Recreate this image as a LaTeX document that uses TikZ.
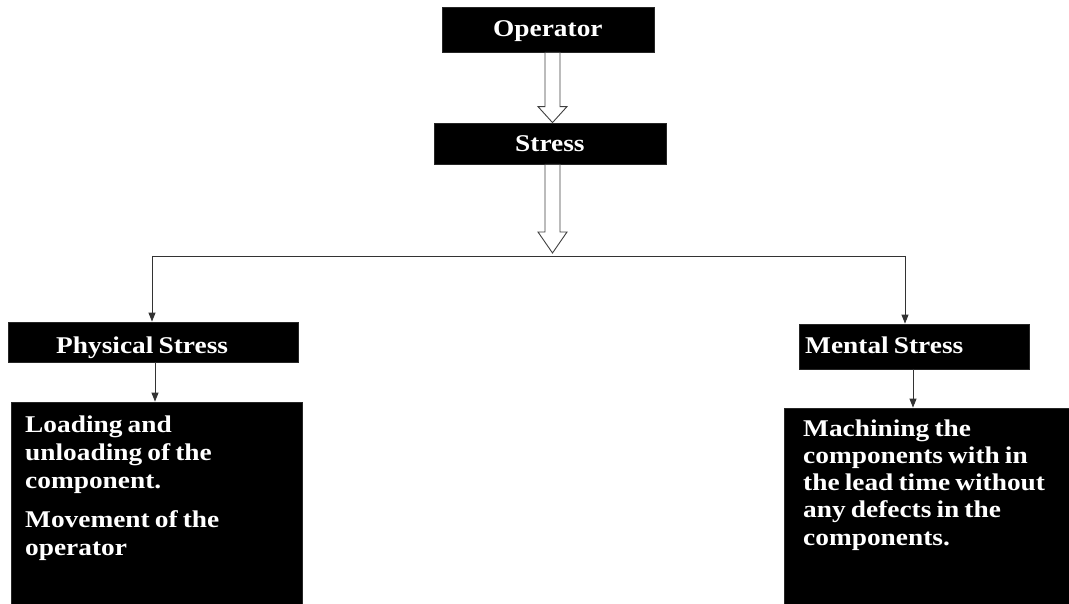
\documentclass[tikz,border=0pt]{standalone}
\usepackage{fontspec}
\usetikzlibrary{arrows.meta,calc}
\newfontfamily\boxfont{Liberation Serif}[FakeStretch=1.14,WordSpace=0.75]
\begin{document}
\begin{tikzpicture}[x=1pt,y=-1pt,
  blackbox/.style={draw=black!85,fill=black,line width=0.8pt,inner sep=0pt},
  boxtext/.style={text=white,anchor=base west,inner sep=0pt,font=\boxfont\bfseries\fontsize{24}{28}\selectfont},
  link/.style={draw=black!80,line width=0.9pt},
  tip/.style={-{Triangle[width=7pt,length=9pt]}},
  hollow/.style={draw=black!75,fill=white,line width=0.9pt,line join=miter}]
\useasboundingbox (0,0) rectangle (1069,604);
\begin{scope}
\clip (0,0) rectangle (1069,604);
% boxes
\node[blackbox,minimum width=212pt,minimum height=45pt] (op) at (548,29.5) {};
\node[blackbox,minimum width=232pt,minimum height=41pt] (st) at (550,143.5) {};
\node[blackbox,minimum width=290pt,minimum height=40pt] (ps) at (153,342) {};
\node[blackbox,minimum width=291pt,minimum height=212pt] (pb) at (156.5,508) {};
\node[blackbox,minimum width=230pt,minimum height=45pt] (ms) at (914,346.5) {};
\node[blackbox,minimum width=291pt,minimum height=206pt] (mb) at (929.5,511) {};
\end{scope}
% labels
\node[boxtext] (opt) at (493,37) {Operator};
\node[boxtext] (stt) at (515,152) {Stress};
\node[boxtext] (pst) at (56,353) {Physical Stress};
\node[boxtext] (mst) at (805,353) {Mental Stress};
\node[boxtext] (pb1) at (25,432) {Loading and};
\node[boxtext] (pb2) at (25,460) {unloading of the};
\node[boxtext] (pb3) at (25,488) {component.};
\node[boxtext] (pb4) at (25,527) {Movement of the};
\node[boxtext] (pb5) at (25,555) {operator};
\node[boxtext] (mb1) at (803,436) {Machining the};
\node[boxtext] (mb2) at (803,463) {components with in};
\node[boxtext] (mb3) at (803,490) {the lead time without};
\node[boxtext] (mb4) at (803,517) {any defects in the};
\node[boxtext] (mb5) at (803,545) {components.};
% hollow block arrows
\coordinate (a1) at (op.south -| 552.5,0);
\coordinate (a1t) at (st.north -| 552.5,0);
\draw[hollow] ($(a1)+(-7.5,0)$) -- ($(a1)+(7.5,0)$) -- ($(a1t)+(7.5,-16)$) -- ($(a1t)+(14.5,-16)$)
  -- (a1t) -- ($(a1t)+(-14.5,-16)$) -- ($(a1t)+(-7.5,-16)$) -- cycle;
\coordinate (a2) at (st.south -| 552.5,0);
\coordinate (a2t) at (552.5,253);
\draw[hollow] ($(a2)+(-7.5,0)$) -- ($(a2)+(7.5,0)$) -- ($(a2t)+(7.5,-21)$) -- ($(a2t)+(14.5,-21)$)
  -- (a2t) -- ($(a2t)+(-14.5,-21)$) -- ($(a2t)+(-7.5,-21)$) -- cycle;
% branch line
\coordinate (jl) at (152,256);
\coordinate (jr) at (905,256);
\draw[link] (jl) -- (jr);
\draw[link,tip] (jl) -- (jl |- ps.north);
\draw[link,tip] (jr) -- (jr |- ms.north);
\draw[link,tip] ([xshift=2pt]ps.south) -- ([xshift=2pt]ps.south |- pb.north);
\draw[link,tip] ([xshift=-1pt]ms.south) -- ([xshift=-1pt]ms.south |- mb.north);
\end{tikzpicture}
\end{document}
